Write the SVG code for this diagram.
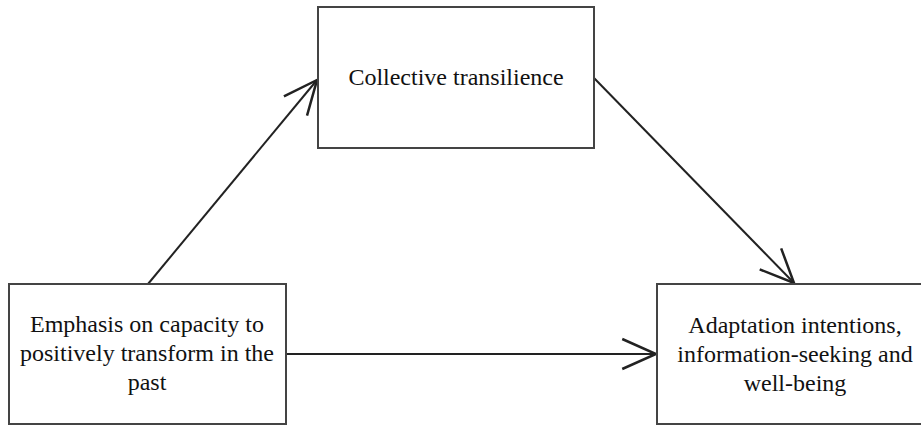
<svg xmlns="http://www.w3.org/2000/svg" width="921" height="427" viewBox="0 0 921 427">
<defs>
<style>
.box{fill:#fff;stroke:#444;stroke-width:2}
.lbl{font-family:"Liberation Serif","Times New Roman",serif;font-size:24px;fill:#111;text-anchor:middle}
.conn{stroke:#222;stroke-width:2;fill:none;marker-end:url(#arr)}
</style>
<marker id="arr" markerUnits="userSpaceOnUse" markerWidth="40" markerHeight="40" viewBox="-30 -15 32 30" refX="0" refY="0" orient="auto">
<path d="M-27,-12 L0,0 L-27,12" fill="none" stroke="#222" stroke-width="2"/>
</marker>
</defs>
<rect width="921" height="427" fill="#fff"/>
<g id="connectors">
<line class="conn" x1="148" y1="284" x2="317" y2="80"/>
<line class="conn" x1="594" y1="78" x2="794" y2="283"/>
<line class="conn" x1="286" y1="354" x2="656" y2="354"/>
</g>
<g id="node-transilience">
<rect class="box" x="318" y="7" width="276" height="141"/>
<text class="lbl" x="456" y="85">Collective transilience</text>
</g>
<g id="node-emphasis">
<rect class="box" x="9" y="284" width="277" height="140"/>
<text class="lbl" x="147" y="332">Emphasis on capacity to</text>
<text class="lbl" x="147" y="361">positively transform in the</text>
<text class="lbl" x="147" y="390">past</text>
</g>
<g id="node-adaptation">
<rect class="box" x="657" y="284" width="276" height="140"/>
<text class="lbl" x="795" y="333">Adaptation intentions,</text>
<text class="lbl" x="795" y="362">information-seeking and</text>
<text class="lbl" x="795" y="391">well-being</text>
</g>
</svg>
